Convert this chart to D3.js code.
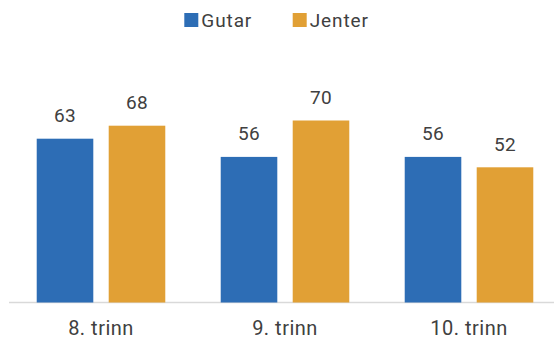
<!DOCTYPE html>
<html><head><meta charset="utf-8">
<script src="https://cdn.jsdelivr.net/npm/d3@7"></script>
<style>
html,body{margin:0;padding:0;background:#fff;}
svg{display:block;font-family:Roboto, "Noto Sans", sans-serif;}
</style></head>
<body>
<svg id="chart" width="554" height="339"></svg>
<script>
const categories = ["8. trinn", "9. trinn", "10. trinn"];
const seriesNames = ["Gutar", "Jenter"];
const gutar = [63, 56, 56];
const jenter = [68, 70, 52];
const colors = ["#2D6DB5", "#E1A035"];

const svg = d3.select("#chart");
const baseY = 302.5;
const y = d3.scaleLinear().domain([0, 80]).range([baseY, baseY - 208]);
const x0 = d3.scaleBand().domain(categories).range([9, 561]).padding(0);
const x1 = d3.scaleBand().domain(seriesNames).range([0, x0.bandwidth()])
  .paddingInner(0.214).paddingOuter(0.385);

const data = categories.map((c, i) => ({cat: c, vals: [
  {s: seriesNames[0], v: gutar[i]}, {s: seriesNames[1], v: jenter[i]}]}));

// axis line
svg.append("line").attr("x1", 9).attr("x2", 554).attr("y1", baseY).attr("y2", baseY)
  .attr("stroke", "#d9d9d9").attr("stroke-width", 1.3);

const g = svg.selectAll("g.grp").data(data).join("g")
  .attr("transform", d => `translate(${x0(d.cat)},0)`);
g.selectAll("rect").data(d => d.vals).join("rect")
  .attr("x", d => x1(d.s)).attr("width", x1.bandwidth())
  .attr("y", d => y(d.v)).attr("height", d => baseY - y(d.v))
  .attr("fill", (d, i) => colors[i]);
g.selectAll("text").data(d => d.vals).join("text")
  .attr("x", d => x1(d.s) + x1.bandwidth() / 2)
  .attr("y", d => y(d.v) - 16.5)
  .attr("text-anchor", "middle").attr("font-size", 19).attr("fill", "#404040")
  .attr("letter-spacing", 0.4)
  .text(d => d.v);

// category axis labels
svg.selectAll("text.cat").data(categories).join("text").attr("class", "cat")
  .attr("x", d => x0(d) + x0.bandwidth() / 2).attr("y", 335)
  .attr("text-anchor", "middle").attr("font-size", 20).attr("fill", "#404040")
  .attr("letter-spacing", 0.5)
  .text(d => d);

// legend
const legX = [184.3, 292.7];
const leg = svg.selectAll("g.leg").data(seriesNames).join("g").attr("class", "leg")
  .attr("transform", (d, i) => `translate(${legX[i]},0)`);
leg.append("rect").attr("x", 0).attr("y", 13).attr("width", 14).attr("height", 14)
  .attr("fill", (d, i) => colors[i]);
leg.append("text").attr("x", 17).attr("y", 26.7).attr("font-size", 19).attr("fill", "#404040")
  .attr("letter-spacing", 0.9)
  .text(d => d);
</script>
</body></html>
